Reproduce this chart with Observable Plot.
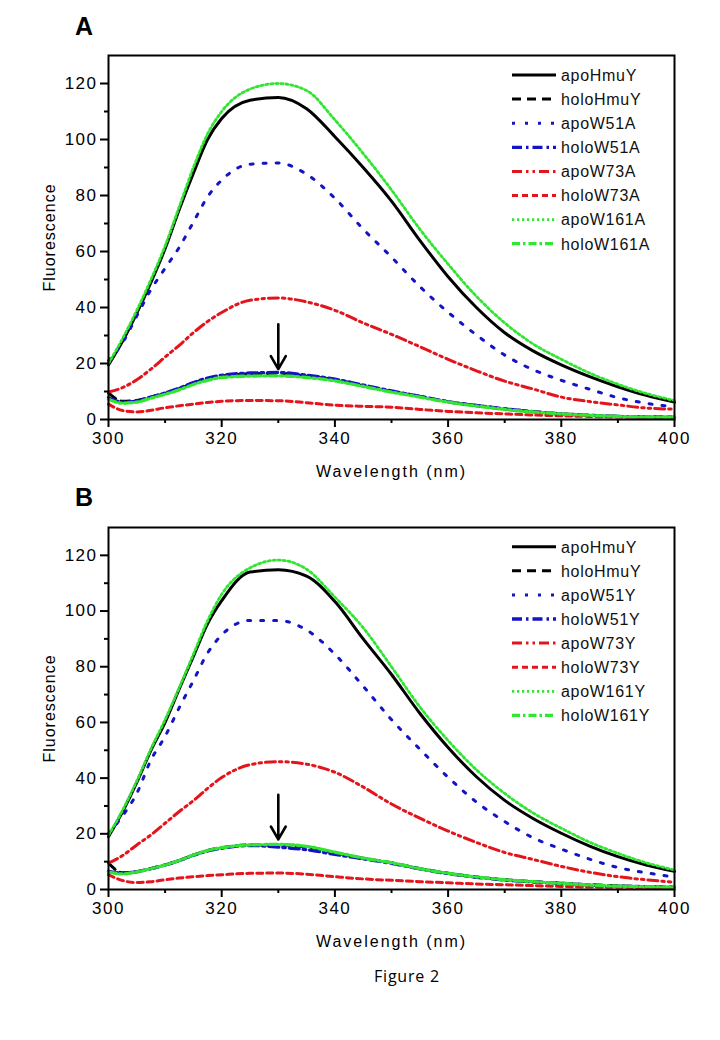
<!DOCTYPE html>
<html><head><meta charset="utf-8">
<script src="https://cdn.jsdelivr.net/npm/d3@7"></script>
<script src="https://cdn.jsdelivr.net/npm/@observablehq/plot@0.6"></script>
<style>
body{margin:0;background:#fff;}
#wrap{position:relative;width:720px;height:1040px;background:#fff;}
#wrap > svg{position:absolute;left:0;}
</style></head>
<body><div id="wrap"></div>
<script>
// Wavelength grid (nm)
const wavelengths = [300,302.5,305,307.5,310,312.5,315,317.5,320,325,330,335,340,345,350,355,360,365,370,375,380,385,390,395,400];

// Panel A series (fluorescence)
const aApoHmuY   = [19.5,28,38,49,61,75,88,100,107.5,114,115,111,101,90,78,64,51,40,31,24.5,19.5,15.3,11.7,8.6,6.2];
const aHoloHmuY  = [9.5,6.5,6.8,8,9.3,11,13,14.6,15.5,16.3,16.5,15.5,14.2,12,10,8.2,6.3,5,3.8,2.8,2,1.5,1.1,0.9,0.8];
const aApoW51A   = [21,27.5,37,46.4,54,61.5,70.5,79.5,85.5,91.2,91.6,87.6,79,68,58,47.5,38.3,30.2,23,17.8,14,10.8,7.8,5.8,4.5];
const aHoloW51A  = [7.8,6.2,6.6,8,9.5,11.2,13.2,14.8,15.8,16.6,16.8,15.8,14.4,12.3,10.2,8.3,6.4,5,3.8,2.8,2,1.5,1.1,0.9,0.8];
const aApoW73A   = [9.8,11.4,14.2,18,22.3,26.5,31,35,38.2,42.6,43.4,42,39,34.5,30.4,26,21.5,17.4,13.7,10.9,8,6.4,5.2,4.1,3.7];
const aHoloW73A  = [5.5,3.2,2.7,3.3,4.2,4.9,5.5,6.1,6.5,6.8,6.7,6,5.1,4.7,4.4,3.6,2.9,2.4,2,1.6,1.3,1.1,0.9,0.9,0.9];
const aApoW161A  = [20,29,39,50,62,76,90,102,110,118,120,117.5,107,95,82,68,55.5,44,34.5,27,21.5,16.6,12.6,9.3,6.8];
const aHoloW161A = [7.2,5.8,6.2,7.6,9,10.6,12.5,14,15,15.5,15.6,15,13.8,11.8,9.8,8,6.2,4.8,3.6,2.7,2,1.5,1.1,0.9,0.8];

// Panel B series
const bApoHmuY   = [19,28,38.5,50,60,72,83.7,95.4,103.7,114,114.8,112.5,103.4,90,77.2,63.3,51,40.5,32,25.5,20.2,15.6,11.8,8.8,6.5];
const bHoloHmuY  = [9.5,6,6.4,7.5,8.8,10.4,12.4,14,15,16,16,15.3,13.2,11.2,9.6,7.5,5.8,4.5,3.5,2.8,2.3,1.7,1.3,1,0.8];
const bApoW51Y   = [20,26.5,34.5,46.5,55,65.3,75,84.9,91.4,96.6,96.6,93.2,84.5,73,61,50.4,40.3,31.4,24.4,18.6,14.5,10.9,7.9,6,4.5];
const bHoloW51Y  = [6.5,5.9,6.4,7.5,8.8,10.4,12.3,13.8,14.8,15.8,15.2,14.3,12.6,11,9.4,7.4,5.7,4.4,3.4,2.7,2.2,1.6,1.2,1,0.8];
const bApoW73Y   = [9.5,12.2,16,19.6,23.8,28,31.9,36.3,40.2,44.8,45.9,45,42.1,36.8,30.7,25.6,21,16.9,13.3,10.8,8.3,6.2,4.6,3.5,2.6];
const bHoloW73Y  = [5.3,3.2,2.5,2.8,3.5,4.1,4.6,5,5.3,5.8,5.9,5.5,4.6,3.8,3.3,2.8,2.4,2,1.7,1.4,1.1,0.9,0.8,0.7,0.6];
const bApoW161Y  = [19.5,28.5,39,50.5,61,72.5,84.5,96.5,106,115.5,118.3,115,105,94,80,65.6,53.5,43,34.5,27.5,22,17,13,9.6,7];
const bHoloW161Y = [6.2,5.6,6.3,7.5,8.8,10.4,12.4,14,15,16,16.2,15.5,13.4,11.3,9.6,7.5,5.8,4.5,3.5,2.8,2.2,1.6,1.2,1,0.8];

const namesA = ["apoHmuY","holoHmuY","apoW51A","holoW51A","apoW73A","holoW73A","apoW161A","holoW161A"];
const namesB = ["apoHmuY","holoHmuY","apoW51Y","holoW51Y","apoW73Y","holoW73Y","apoW161Y","holoW161Y"];
const valuesA = [aApoHmuY,aHoloHmuY,aApoW51A,aHoloW51A,aApoW73A,aHoloW73A,aApoW161A,aHoloW161A];
const valuesB = [bApoHmuY,bHoloHmuY,bApoW51Y,bHoloW51Y,bApoW73Y,bHoloW73Y,bApoW161Y,bHoloW161Y];

// Arrow marking 330 nm (x, top, tip)
const arrowX = [330];
const arrowTop = [34];
const arrowTip = [18];

const xTicks = [300,320,340,360,380,400];
const xMinor = [310,330,350,370,390];
const yTicks = [0,20,40,60,80,100,120];
const yMinor = [10,30,50,70,90,110];

const BLACK = "#000000", BLUE = "#1414c4", RED = "#e3141c", GREEN = "#33e533";
const styles = [
  {stroke: BLACK, width: 3,   dash: null},
  {stroke: BLACK, width: 3,   dash: "9,6"},
  {stroke: BLUE,  width: 3,   dash: "3,10"},
  {stroke: BLUE,  width: 3.3, dash: "10,4,2.5,4"},
  {stroke: RED,   width: 3,   dash: "10,4,2.5,4,2.5,4"},
  {stroke: RED,   width: 3,   dash: "6,4"},
  {stroke: GREEN, width: 2.8, dash: "2.2,2.8"},
  {stroke: GREEN, width: 3.3, dash: "8,3,2.5,3"}
];

function makePanel(names, values, marginTop) {
  const marks = [];
  names.forEach((name, i) => {
    const rows = wavelengths.map((w, j) => ({w, f: values[i][j], name}));
    const s = styles[i];
    marks.push(Plot.line(rows, {
      x: "w", y: "f", stroke: s.stroke, strokeWidth: s.width,
      strokeDasharray: s.dash, curve: "monotone-x"
    }));
  });
  const arrows = arrowX.map((x, i) => ({x, y1: arrowTop[i], y2: arrowTip[i]}));
  const svg = Plot.plot({
    width: 720, height: 470,
    marginLeft: 108, marginRight: 46, marginTop, marginBottom: 51,
    x: {domain: [300, 400], label: null},
    y: {domain: [0, 130], label: null},
    style: "font-family:'Liberation Sans',Arial,sans-serif;font-size:17px;letter-spacing:1.5px;color:#000;background:transparent;overflow:visible;",
    marks: [
      ...marks,
      Plot.arrow(arrows, {x1: "x", x2: "x", y1: "y1", y2: "y2", stroke: BLACK, strokeWidth: 2.6, headLength: 11, headAngle: 60}),
      Plot.frame({stroke: BLACK, strokeWidth: 2}),
      Plot.axisX({ticks: xTicks, tickSize: 8, tickPadding: 4, strokeWidth: 2,
        label: "Wavelength (nm)", labelAnchor: "center", labelOffset: 57, labelArrow: "none"}),
      Plot.axisX({ticks: xMinor, tickSize: 4, strokeWidth: 2, tickFormat: () => "", label: null}),
      Plot.axisY({ticks: yTicks, tickSize: 8, tickPadding: 3, strokeWidth: 2,
        label: "Fluorescence", labelAnchor: "center", labelOffset: 65, labelArrow: "none"}),
      Plot.axisY({ticks: yMinor, tickSize: 4, strokeWidth: 2, tickFormat: () => "", label: null})
    ]
  });
  // axis-title typography
  d3.select(svg).selectAll("text").each(function() {
    const t = this.textContent;
    if (t === "Wavelength (nm)") { this.style.fontSize = "16px"; this.style.letterSpacing = "2px"; }
    if (t === "Fluorescence") { this.style.fontSize = "16px"; this.style.letterSpacing = "1px"; }
  });
  return svg;
}

const wrap = document.getElementById("wrap");
const pA = makePanel(namesA, valuesA, 55);
pA.style.top = "0px";
wrap.appendChild(pA);
const pB = makePanel(namesB, valuesB, 57);
pB.style.top = "470px";
wrap.appendChild(pB);

// Overlay: panel letters, legends, caption
const ov = d3.select(wrap).append("svg")
  .attr("width", 720).attr("height", 1040)
  .style("position", "absolute").style("top", "0px").style("left", "0px")
  .style("font-family", "'Liberation Sans',Arial,sans-serif");

ov.append("text").attr("x", 75).attr("y", 35).attr("font-size", 25).attr("font-weight", "bold").text("A");
ov.append("text").attr("x", 75).attr("y", 506).attr("font-size", 25).attr("font-weight", "bold").text("B");
ov.append("text").attr("x", 407).attr("y", 981.5).attr("text-anchor", "middle")
  .attr("font-family", "'Open Sans', Lato, sans-serif").attr("font-size", 16)
  .attr("letter-spacing", "0.8px").text("Figure 2");

function legend(names, y0) {
  const g = ov.append("g");
  names.forEach((n, i) => {
    const y = y0 + i * 24.1;
    const s = styles[i];
    g.append("line").attr("x1", 512).attr("x2", 556).attr("y1", y).attr("y2", y)
      .attr("stroke", s.stroke).attr("stroke-width", s.width)
      .attr("stroke-dasharray", s.dash);
    g.append("text").attr("x", 561).attr("y", y + 5.8).attr("font-size", 16)
      .attr("letter-spacing", "0.7px").attr("fill", "#111").text(n);
  });
}
legend(namesA, 75);
legend(namesB, 546.7);
</script>
</body></html>
